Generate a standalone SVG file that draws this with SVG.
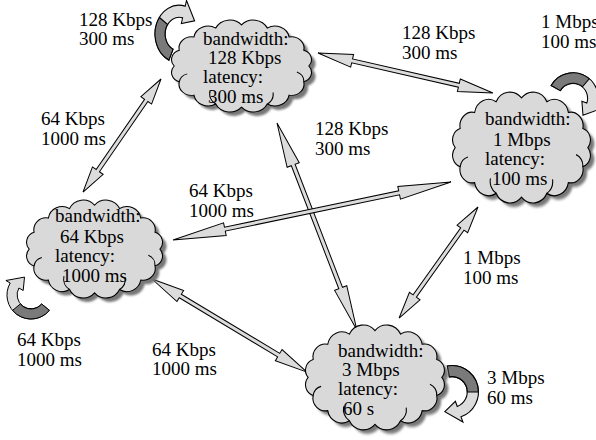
<svg xmlns="http://www.w3.org/2000/svg" width="596" height="440" viewBox="0 0 596 440">
<style>
text{font-family:"Liberation Serif","Times New Roman",serif;font-size:19px;fill:#000}
.cl{fill:#d9d9d9;stroke:#000;stroke-width:1}
.sh{fill:#777;filter:url(#blur)}
.inner{fill:none;stroke:#000;stroke-width:1}
.arr{fill:#dcdcdc;stroke:#000;stroke-width:1;stroke-linejoin:miter}
.ca{fill:#dcdcdc;stroke:#000;stroke-width:1}
.cad{fill:#7a7a7a;stroke:#000;stroke-width:1}
</style>
<defs>
<filter id="blur" x="-10%" y="-10%" width="120%" height="120%"><feGaussianBlur stdDeviation="1.2"/></filter>
<path id="cloud" d="M132,50 A10,10 0 0 1 127.3,66.1 A11.5,11.5 0 0 1 113.8,79.7 A13.3,13.3 0 0 1 93.7,88.8 A14.3,14.3 0 0 1 70,92 A14.3,14.3 0 0 1 46.3,88.8 A13.3,13.3 0 0 1 26.2,79.7 A11.5,11.5 0 0 1 12.7,66.1 A10,10 0 0 1 8,50 A10,10 0 0 1 12.7,33.9 A11.5,11.5 0 0 1 26.2,20.3 A13.3,13.3 0 0 1 46.3,11.2 A14.3,14.3 0 0 1 70,8 A14.3,14.3 0 0 1 93.7,11.2 A13.3,13.3 0 0 1 113.8,20.3 A11.5,11.5 0 0 1 127.3,33.9 A10,10 0 0 1 132,50 Z"/>
<path id="cloudIn" d="M46.3,88.8 A12,12 0 0 1 41,76 M93.7,88.8 A12,12 0 0 0 99,77 M127.3,66.1 A10,10 0 0 0 121,56 M12.7,66.1 A10,10 0 0 1 20,58"/>
<path id="curv" d="M-9,10.7 L-15.4,18.4 A24,24 0 0 1 12,-20.8 L14.5,-25.1 L17.9,-6.5 L4.5,-7.8 L7,-12.1 A14,14 0 0 0 -9,10.7 Z"/>
<path id="curvD" d="M-9,10.7 L-15.4,18.4 A24,24 0 0 1 -15.4,-18.4 L-9,-10.7 A14,14 0 0 0 -9,10.7 Z"/>
</defs>

<g id="connectors">
<path class="arr" transform="translate(161,79) rotate(124.6)" d="M0,0 L26,-6.5 L26,-2 L111.3,-2 L111.3,-6.5 L137.3,0 L111.3,6.5 L111.3,2 L26,2 L26,6.5 Z"/>
<path class="arr" transform="translate(318,53) rotate(12.9)" d="M0,0 L35,-6.5 L35,-2 L144.5,-2 L144.5,-6.5 L179.5,0 L144.5,6.5 L144.5,2 L35,2 L35,6.5 Z"/>
<path class="arr" transform="translate(277,123) rotate(68.9)" d="M0,0 L45,-6.5 L45,-2 L176.9,-2 L176.9,-6.5 L221.9,0 L176.9,6.5 L176.9,2 L45,2 L45,6.5 Z"/>
<path class="arr" transform="translate(173,240) rotate(-11.8)" d="M0,0 L53,-6.5 L53,-2 L231,-2 L231,-6.5 L284,0 L231,6.5 L231,2 L53,2 L53,6.5 Z"/>
<path class="arr" transform="translate(478,207) rotate(125.4)" d="M0,0 L27,-6.5 L27,-2 L109.2,-2 L109.2,-6.5 L136.2,0 L109.2,6.5 L109.2,2 L27,2 L27,6.5 Z"/>
<path class="arr" transform="translate(152,279) rotate(31)" d="M0,0 L33,-6.5 L33,-2 L147.8,-2 L147.8,-6.5 L180.8,0 L147.8,6.5 L147.8,2 L33,2 L33,6.5 Z"/>
</g>

<g id="loops">
<g transform="translate(179,34) scale(1,1.2) rotate(-15)"><use href="#curv" class="ca"/><use href="#curvD" class="cad"/></g>
<g transform="translate(573,98) scale(1.05) rotate(80)"><use href="#curv" class="ca"/><use href="#curvD" class="cad"/></g>
<g transform="translate(31,295) rotate(-90)"><use href="#curv" class="ca"/><use href="#curvD" class="cad"/></g>
<g transform="translate(452,392) rotate(130) scale(1.1)"><use href="#curv" class="ca"/><use href="#curvD" class="cad"/></g>
</g>

<g id="node-128k">
<use href="#cloud" class="sh" transform="translate(4,4) translate(165.5,17.1) scale(1.086,0.979)"/>
<g transform="translate(165.5,17.1) scale(1.086,0.979)"><use href="#cloud" class="cl"/><use href="#cloudIn" class="inner"/></g>
<text x="203" y="45">bandwidth:</text>
<text x="208" y="64">128 Kbps</text>
<text x="203" y="83">latency:</text>
<text x="208" y="103">300 ms</text>
</g>

<g id="node-1m">
<use href="#cloud" class="sh" transform="translate(4,4) translate(446.6,88.5) scale(1.07,1.181)"/>
<g transform="translate(446.6,88.5) scale(1.07,1.181)"><use href="#cloud" class="cl"/><use href="#cloudIn" class="inner"/></g>
<text x="485" y="125">bandwidth:</text>
<text x="493" y="146">1 Mbps</text>
<text x="485" y="165">latency:</text>
<text x="492" y="185">100 ms</text>
</g>

<g id="node-64k">
<use href="#cloud" class="sh" transform="translate(4,4) translate(20.7,196.9) scale(1.055,1.043)"/>
<g transform="translate(20.7,196.9) scale(1.055,1.043)"><use href="#cloud" class="cl"/><use href="#cloudIn" class="inner"/></g>
<text x="55" y="222">bandwidth:</text>
<text x="60" y="243">64 Kbps</text>
<text x="55" y="262">latency:</text>
<text x="62" y="282">1000 ms</text>
</g>

<g id="node-3m">
<use href="#cloud" class="sh" transform="translate(4,4) translate(299.5,321.6) scale(1.078,1.117)"/>
<g transform="translate(299.5,321.6) scale(1.078,1.117)"><use href="#cloud" class="cl"/><use href="#cloudIn" class="inner"/></g>
<text x="338" y="357">bandwidth:</text>
<text x="342" y="376">3 Mbps</text>
<text x="338" y="395">latency:</text>
<text x="343" y="415">60 s</text>
</g>

<g id="labels">
<text x="79" y="26">128 Kbps</text><text x="79" y="45">300 ms</text>
<text x="402" y="39">128 Kbps</text><text x="402" y="59">300 ms</text>
<text x="541" y="28">1 Mbps</text><text x="541" y="48">100 ms</text>
<text x="41" y="125">64 Kbps</text><text x="41" y="145">1000 ms</text>
<text x="315" y="135">128 Kbps</text><text x="315" y="155">300 ms</text>
<text x="189" y="197">64 Kbps</text><text x="189" y="217">1000 ms</text>
<text x="463" y="264">1 Mbps</text><text x="463" y="284">100 ms</text>
<text x="17" y="346">64 Kbps</text><text x="17" y="366">1000 ms</text>
<text x="152" y="356">64 Kbps</text><text x="152" y="375">1000 ms</text>
<text x="487" y="384">3 Mbps</text><text x="487" y="404">60 ms</text>
</g>
</svg>
